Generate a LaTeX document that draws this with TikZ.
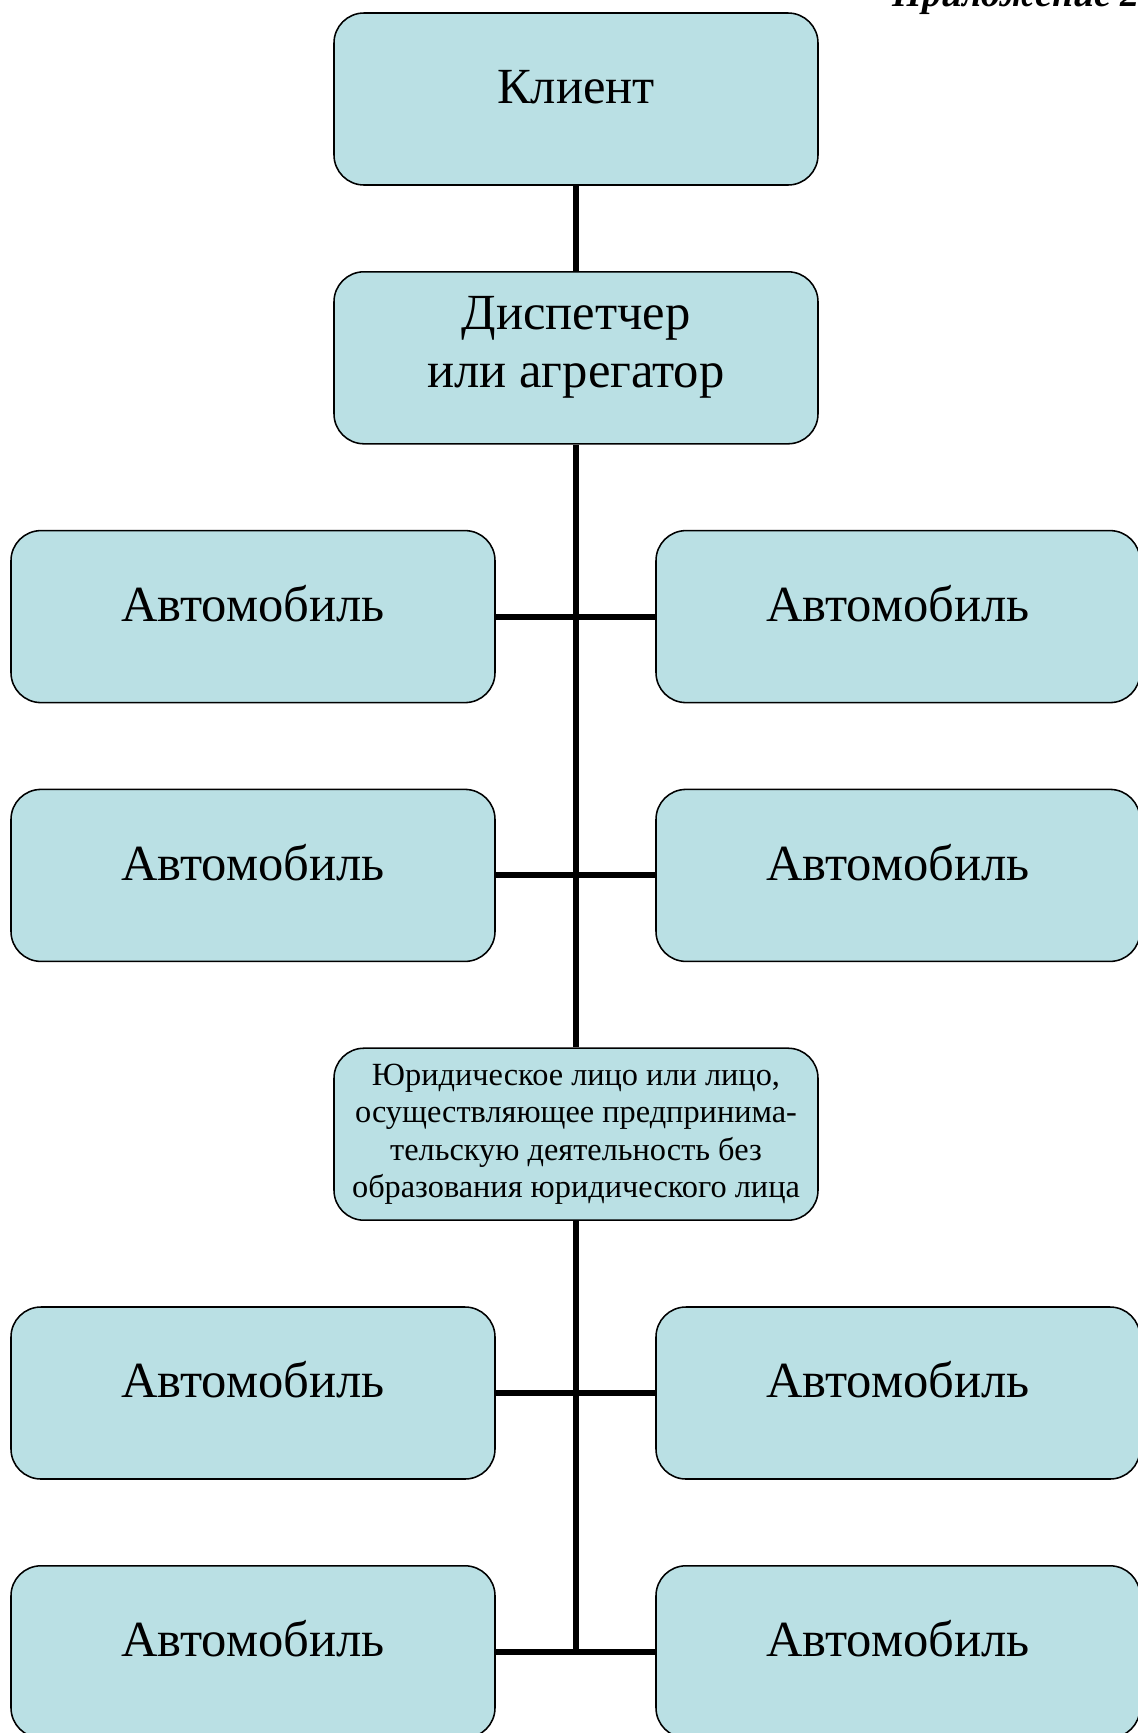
\documentclass[tikz,border=0pt]{standalone}
\usepackage{fontspec}
\setmainfont{Liberation Serif}
\definecolor{azzurro}{RGB}{186,224,228}
\tikzset{
  box/.style={draw, line width=1.1pt, fill=azzurro, rounded corners=0.75cm,
    minimum width=12.1cm, minimum height=4.3cm, inner sep=0pt,
    font=\fontsize{36}{41}\selectfont},
  riga/.style={text height=24pt, text depth=17pt},
  conn/.style={line width=4.3pt}
}
\begin{document}
\begin{tikzpicture}
  \useasboundingbox (0,0) rectangle (28.425,-43.325);

  % intestazione (tagliata)
  \node[anchor=base east, inner sep=0pt, font=\fontsize{27}{30}\selectfont\bfseries\itshape] (app) at (28.5,-0.16) {Приложение 2};

  % colonna centrale
  \node[box, riga] (cli) at (14.4,-2.475) {Клиент};
  \node[box, align=center, text height=50pt, text depth=8pt] (disp) at (14.4,-8.945) {Диспетчер\\или агрегатор};
  \node[box, align=center, font=\fontsize{23}{26.5}\selectfont] (jur) at (14.4,-28.355)
    {Юридическое лицо или лицо,\\осуществляющее предпринима-\\тельскую деятельность без\\образования юридического лица};

  % linea verticale
  \draw[conn] (cli) -- (disp);
  \draw[conn] (disp) -- (jur);

  % automobili
  \foreach \r/\y in {1/-15.415, 2/-21.885, 3/-34.825, 4/-41.295} {
    \node[box, riga] (sx\r) at (6.325,\y) {Автомобиль};
    \node[box, riga] (dx\r) at (22.45,\y) {Автомобиль};
    \draw[conn] (sx\r) -- (dx\r);
  }
  \draw[conn] (jur) -- (jur.south |- sx4.east);
\end{tikzpicture}
\end{document}
